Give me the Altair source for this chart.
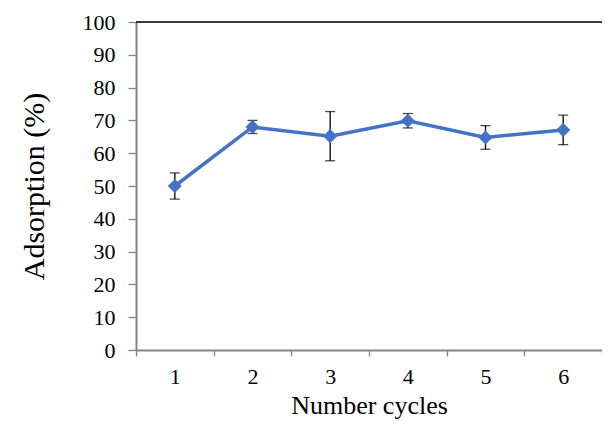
import altair as alt
import pandas as pd

cycles = ["1", "2", "3", "4", "5", "6"]
adsorption = [50.0, 68.0, 65.2, 69.9, 64.8, 67.1]
error = [4.0, 2.0, 7.5, 2.2, 3.6, 4.5]

df = pd.DataFrame({"cycle": cycles, "ads": adsorption, "err": error})
df["lo"] = df["ads"] - df["err"]
df["hi"] = df["ads"] + df["err"]

FONT = "Liberation Serif"
AX = "#868686"
W, H = 466, 328

xaxis = alt.Axis(title="Number cycles", labelAngle=0, tickBand="extent",
                 tickSize=6, labelPadding=10, titleFontSize=26, titlePadding=5)
yaxis = alt.Axis(title="Adsorption  (%)", values=list(range(0, 101, 10)),
                 grid=False, tickSize=8, labelPadding=13, titleFontSize=30,
                 titlePadding=33)
yscale = alt.Scale(domain=[0, 100], nice=False)

x = alt.X("cycle:N", sort=cycles,
          scale=alt.Scale(paddingInner=0, paddingOuter=0), axis=xaxis)

base = alt.Chart(df)
err = base.mark_errorbar(ticks=alt.MarkConfig(size=10, color="black", strokeWidth=1.3),
                         color="black", thickness=1.3).encode(
    x=x, y=alt.Y("lo:Q", scale=yscale, axis=yaxis), y2="hi:Q")
line = base.mark_line(color="#4472C4", strokeWidth=3.5).encode(
    x=x, y=alt.Y("ads:Q", scale=yscale, axis=yaxis))
pts = base.mark_point(shape="diamond", filled=True, color="#4472C4", size=200,
                      opacity=1).encode(x=x, y=alt.Y("ads:Q", scale=yscale, axis=yaxis))
top = alt.Chart(pd.DataFrame({"a": [0]})).mark_rule(color="black", strokeWidth=1.5).encode(
    y=alt.value(0), x=alt.value(0), x2=alt.value(W))

chart = alt.layer(top, err, line, pts).properties(
    width=W, height=H,
    autosize=alt.AutoSizeParams(type="none"),
    padding={"left": 128, "top": 14, "right": 0, "bottom": 72},
).configure_view(stroke=None).configure(background="white").configure_axis(
    domainColor=AX, tickColor=AX, domainWidth=2, tickWidth=1.3,
    labelFont=FONT, labelFontSize=22, labelColor="black",
    titleFont=FONT, titleFontWeight="normal", titleColor="black")

chart.save("out.html", embed_options={"renderer": "svg", "actions": False})
